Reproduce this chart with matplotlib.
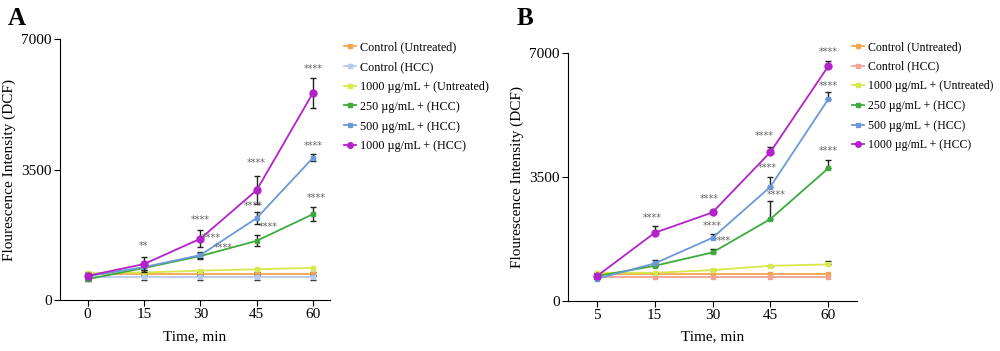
import matplotlib.pyplot as plt
import numpy as np

plt.rcParams['font.family'] = ['Liberation Serif', 'DejaVu Serif']

# Panel A data
times_a = ['0', '15', '30', '45', '60']
labels = ['Control (Untreated)', 'Control (HCC)', '1000 µg/mL + (Untreated)',
          '250 µg/mL + (HCC)', '500 µg/mL + (HCC)', '1000 µg/mL + (HCC)']
ctrl_un_a = [700, 700, 700, 700, 700]
ctrl_hcc_a = [610, 610, 610, 610, 610]
untr1000_a = [720, 740, 790, 825, 866]
hcc250_a = [560, 860, 1180, 1590, 2306]
hcc500_a = [640, 885, 1206, 2199, 3817]
hcc1000_a = [650, 966, 1645, 2950, 5560]
err_ctrl_a = [60, 60, 60, 60, 60]
err_250_a = [60, 60, 80, 150, 180]
err_500_a = [60, 80, 90, 150, 100]
err_1000_a = [80, 200, 230, 380, 400]
stars_a = [('**', 1, 1457), ('****', 2, 2146), ('****', 3, 3670), ('****', 4, 6190),
           ('****', 2.2, 1660), ('****', 2.93, 2521), ('****', 4, 4130),
           ('****', 2.4, 1410), ('****', 3.2, 1958), ('****', 4.05, 2744)]

# Panel B data
times_b = ['5', '15', '30', '45', '60']
ctrl_un_b = [744, 744, 744, 744, 744]
ctrl_hcc_b = [668, 668, 668, 668, 668]
untr1000_b = [790, 790, 866, 987, 1026]
hcc250_b = [697, 987, 1365, 2304, 3734]
hcc500_b = [620, 1055, 1777, 3215, 5680]
hcc1000_b = [697, 1918, 2493, 4193, 6610]
err_untr_b = [0, 0, 0, 0, 95]
err_250_b = [0, 0, 85, 510, 235]
err_500_b = [0, 95, 95, 280, 200]
err_1000_b = [0, 190, 0, 140, 150]
stars_b = [('****', 0.95, 2323), ('****', 1.95, 2860), ('****', 2.9, 4645), ('****', 4, 7013),
           ('****', 2.0, 2115), ('****', 2.95, 3751), ('****', 4, 6055),
           ('***', 2.2, 1692), ('****', 3.1, 2972), ('****', 4, 4222)]

c_orange = '#F4A64E'
c_lav = '#B9C9EE'
c_salmon = '#F2A193'
c_yellow = '#D6E84C'
c_green = '#3DAA3D'
c_blue = '#6C98D8'
c_mag = '#B222C8'

fig = plt.figure(figsize=(10, 3.51), dpi=100)
ax1 = fig.add_axes([0.06, 0.145, 0.27, 0.744])
ax2 = fig.add_axes([0.568, 0.143, 0.289, 0.707])


def draw(ax, series, errs, colors, stars, xlim, xticks, upper_only):
    x = np.arange(5)
    handles = []
    for vals, err, col, lab in zip(series, errs, colors, labels):
        big = lab == labels[-1]
        if err is not None:
            yerr = [np.zeros(5), err] if upper_only else err
            ax.errorbar(x, vals, yerr=yerr, fmt='none', ecolor='#222222',
                        elinewidth=1, capsize=2.5, capthick=1)
        h, = ax.plot(x, vals, color=col, marker='o' if big else 's',
                     markersize=5 if big else 3, lw=1.3, label=lab)
        handles.append(h)
    for s, px, py in stars:
        ax.text(px, py, s, ha='center', va='center', fontsize=7, color='#666666',
                family='DejaVu Sans')
    ax.set_ylim(0, 7000)
    ax.set_xlim(*xlim)
    ax.set_yticks([0, 3500, 7000])
    ax.set_xticks(x)
    ax.set_xticklabels(xticks)
    ax.spines['top'].set_visible(False)
    ax.spines['right'].set_visible(False)
    ax.tick_params(labelsize=11, length=4, pad=2)
    ax.set_xlabel('Time, min', fontsize=11, labelpad=6)
    ax.set_ylabel('Flourescence Intensity (DCF)', fontsize=11, labelpad=4)
    return handles


h1 = draw(ax1, [ctrl_un_a, ctrl_hcc_a, untr1000_a, hcc250_a, hcc500_a, hcc1000_a],
          [err_ctrl_a, err_ctrl_a, None, err_250_a, err_500_a, err_1000_a],
          [c_orange, c_lav, c_yellow, c_green, c_blue, c_mag], stars_a, (-0.49, 4.3),
          times_a, False)
h2 = draw(ax2, [ctrl_un_b, ctrl_hcc_b, untr1000_b, hcc250_b, hcc500_b, hcc1000_b],
          [None, None, err_untr_b, err_250_b, err_500_b, err_1000_b],
          [c_orange, c_salmon, c_yellow, c_green, c_blue, c_mag], stars_b, (-0.5, 4.5),
          times_b, True)

for ax, hs, xl, fs in [(ax1, h1, 0.338, 8.7), (ax2, h2, 0.846, 8.5)]:
    ax.legend(handles=hs, loc='upper left', bbox_to_anchor=(xl, 0.9),
              bbox_transform=fig.transFigure, frameon=False, fontsize=fs,
              handlelength=1.0, handletextpad=0.35, labelspacing=0.65, borderpad=0,
              markerscale=0.8)

fig.text(0.008, 0.93, 'A', fontsize=18, fontweight='bold')
fig.text(0.517, 0.93, 'B', fontsize=18, fontweight='bold')

fig.savefig('out.png', dpi=100)
